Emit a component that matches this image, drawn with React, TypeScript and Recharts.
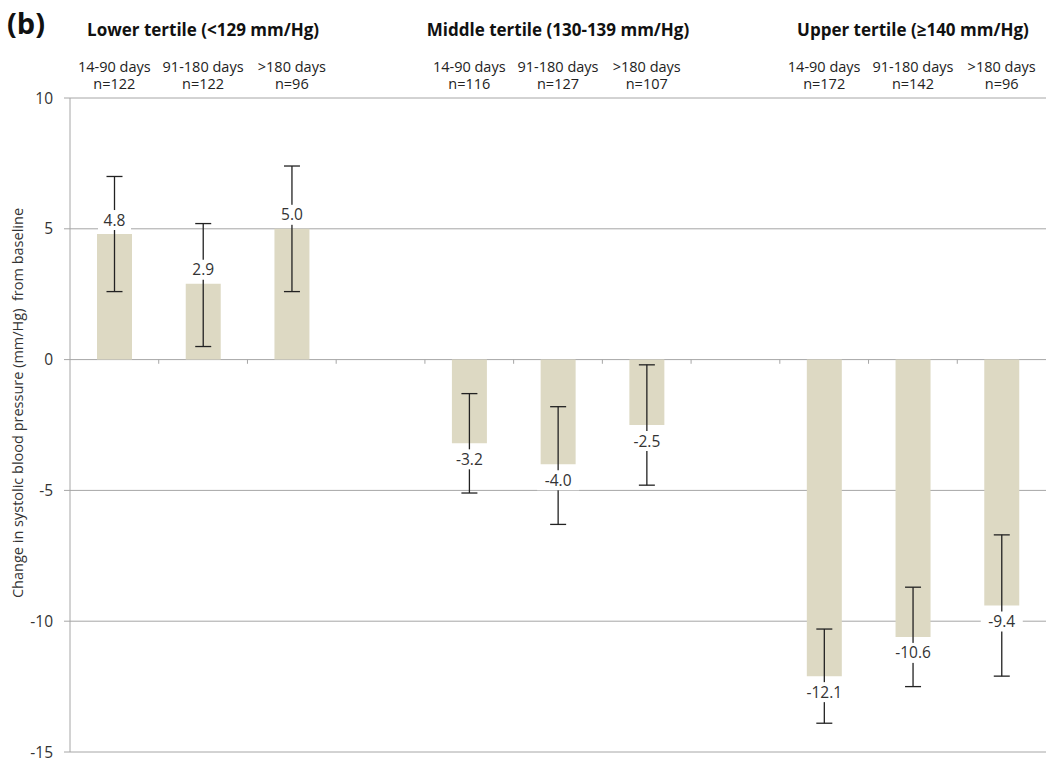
import React from "react"
import {
  BarChart,
  Bar,
  XAxis,
  YAxis,
  CartesianGrid,
  ErrorBar,
  LabelList,
  ReferenceLine,
} from "recharts"

const groupTitles = ["Lower tertile (<129 mm/Hg)", "Middle tertile (130-139 mm/Hg)", "Upper tertile (\u2265140 mm/Hg)"]
const periods = ["14-90 days", "91-180 days", ">180 days"]
const nValues = [
  [122, 122, 96],
  [116, 127, 107],
  [172, 142, 96],
]
const changes = [
  [4.8, 2.9, 5.0],
  [-3.2, -4.0, -2.5],
  [-12.1, -10.6, -9.4],
]
// [below, above] error extents
const errors = [
  [[2.2, 2.2], [2.4, 2.3], [2.4, 2.4]],
  [[1.9, 1.9], [2.3, 2.2], [2.3, 2.3]],
  [[1.8, 1.8], [1.9, 1.9], [2.7, 2.7]],
]
const yTicks = [-15, -10, -5, 0, 5, 10]

const FONT = "'Open Sans', sans-serif"
const SLOTS = 11

const data = groupTitles.flatMap((g, gi) =>
  periods.map((p, pi) => ({
    x: gi * 4 + pi + 0.5,
    group: gi,
    period: p,
    n: nValues[gi][pi],
    value: changes[gi][pi],
    err: errors[gi][pi],
  }))
)

const topTicks = data.map((d) => d.x)
const boundaries = Array.from({ length: SLOTS - 1 }, (_, i) => i + 1)

function HeaderTick(props: any) {
  const { x, y, payload } = props
  const d = data.find((r) => r.x === payload.value)
  if (!d) return null
  const isMiddle = d.period === periods[1]
  return (
    <g fontFamily={FONT} fill="#222">
      {isMiddle && (
        <text x={x} y={y - 62} textAnchor="middle" fontSize={17} fontWeight={700} fill="#111">
          {groupTitles[d.group]}
        </text>
      )}
      <text x={x} y={y - 26} textAnchor="middle" fontSize={14.5}>
        {d.period}
      </text>
      <text x={x} y={y - 9} textAnchor="middle" fontSize={14.5}>
        n={d.n}
      </text>
    </g>
  )
}

function ValueLabel(props: any) {
  const { x, y, width, value } = props
  if (value == null) return null
  const cx = x + width / 2
  const cy = value >= 0 ? y - 14 : y + 16
  const txt = value.toFixed(1)
  const w = txt.length * 9 + 6
  return (
    <g>
      <rect x={cx - w / 2} y={cy - 10} width={w} height={20} fill="#fff" />
      <text x={cx} y={cy + 5.5} textAnchor="middle" fontFamily={FONT} fontSize={15.5} fill="#333">
        {txt}
      </text>
    </g>
  )
}

function YLabel(props: any) {
  const { viewBox } = props
  const cx = viewBox.x + 17
  const cy = viewBox.y + viewBox.height / 2 - 22
  return (
    <text
      x={cx}
      y={cy}
      transform={`rotate(-90 ${cx} ${cy})`}
      textAnchor="middle"
      dominantBaseline="central"
      fontFamily={FONT}
      fontSize={14.5}
      fill="#333"
    >
      Change in systolic blood pressure (mm/Hg)&nbsp; from baseline
    </text>
  )
}

export default function App() {
  return (
    <div style={{ position: "absolute", left: 0, top: 0, width: 1046, height: 764, background: "#fff" }}>
      <div
        style={{
          position: "absolute",
          left: 7,
          top: 5,
          fontFamily: FONT,
          fontWeight: 700,
          fontSize: 29,
          color: "#111",
          lineHeight: "36px",
        }}
      >
        (b)
      </div>
      <BarChart width={1046} height={764} data={data} margin={{ top: 0, right: 0, bottom: 12, left: 0 }}>
        <CartesianGrid vertical={false} stroke="#a6a6a6" horizontalValues={yTicks} />
        <XAxis dataKey="x" type="number" domain={[0, SLOTS]} hide />
        <XAxis
          xAxisId="top"
          orientation="top"
          dataKey="x"
          type="number"
          domain={[0, SLOTS]}
          ticks={topTicks}
          height={98}
          axisLine={false}
          tickLine={false}
          tickSize={0}
          tickMargin={0}
          interval={0}
          tick={<HeaderTick />}
        />
        <YAxis
          type="number"
          domain={[-15, 10]}
          ticks={yTicks}
          interval={0}
          width={70}
          stroke="#a6a6a6"
          tickSize={6}
          tickMargin={11}
          tick={{ fill: "#333", fontSize: 15.5, fontFamily: FONT }}
          label={<YLabel />}
        />
        {boundaries.map((b) => (
          <ReferenceLine
            key={b}
            segment={[
              { x: b, y: 0 },
              { x: b, y: -0.16 },
            ]}
            stroke="#a6a6a6"
          />
        ))}
        <Bar dataKey="value" fill="#ddd9c3" barSize={35} isAnimationActive={false}>
          <ErrorBar dataKey="err" width={8} stroke="#222" strokeWidth={1.3} />
          <LabelList dataKey="value" content={<ValueLabel />} />
        </Bar>
      </BarChart>
    </div>
  )
}
